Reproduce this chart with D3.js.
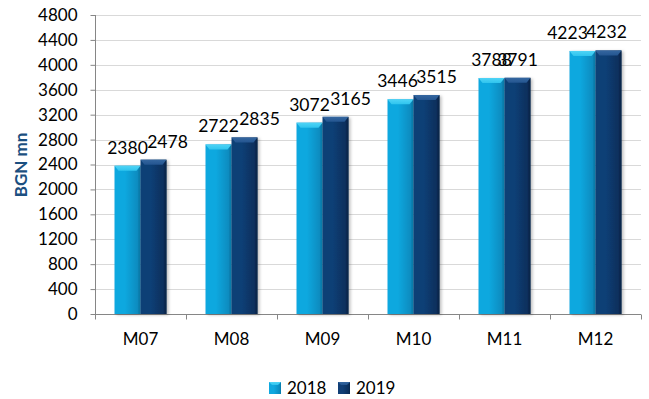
<!DOCTYPE html>
<html>
<head>
<meta charset="utf-8">
<script src="https://cdn.jsdelivr.net/npm/d3@7"></script>
<style>
  html, body { margin: 0; padding: 0; background: #fff; }
  svg { display: block; font-family: Lato, "Open Sans", sans-serif; }
</style>
</head>
<body>
<svg id="chart" width="649" height="399"></svg>
<script>
const categories = ["M07", "M08", "M09", "M10", "M11", "M12"];
const seriesNames = ["2018", "2019"];
const values2018 = [2380, 2722, 3072, 3446, 3788, 4223];
const values2019 = [2478, 2835, 3165, 3515, 3791, 4232];
const yTicks = [0, 400, 800, 1200, 1600, 2000, 2400, 2800, 3200, 3600, 4000, 4400, 4800];
const yLabel = "BGN mn";

// horizontal nudges of the value labels, as placed in the original chart (px)
const labelNudge2018 = [0, 0, 0, -3, 0, -15];
const labelNudge2019 = [14, 15, 15, 10, 0, -2];

const svg = d3.select("#chart");
const x0 = 95, x1 = 641, yTop = 15, yBot = 314;

const x = d3.scaleBand().domain(categories).range([x0, x1]).paddingInner(0).paddingOuter(0);
const xs = d3.scaleBand().domain(seriesNames).range([0, x.bandwidth()]).paddingOuter(0.75).paddingInner(0);
const y = d3.scaleLinear().domain([0, 4800]).range([yBot, yTop]);

const colors = {
  "2018": { dark: "#0a8cc0", mid: "#10a8df", light: "#2fc4ee", top: "#4fd4f6", edge: "#0779a8" },
  "2019": { dark: "#0a2f5c", mid: "#113f76", light: "#245590", top: "#3567a0", edge: "#082649" }
};

const defs = svg.append("defs");
seriesNames.forEach(s => {
  const c = colors[s];
  const g = defs.append("linearGradient").attr("id", "g" + s).attr("x1", "0").attr("x2", "1").attr("y1", "0").attr("y2", "0");
  g.append("stop").attr("offset", "0").attr("stop-color", c.mid);
  g.append("stop").attr("offset", "0.4").attr("stop-color", c.mid);
  g.append("stop").attr("offset", "0.88").attr("stop-color", c.dark);
  g.append("stop").attr("offset", "1").attr("stop-color", c.edge);
  const gt = defs.append("linearGradient").attr("id", "t" + s).attr("x1", "0").attr("x2", "0").attr("y1", "0").attr("y2", "1");
  gt.append("stop").attr("offset", "0").attr("stop-color", c.top);
  gt.append("stop").attr("offset", "1").attr("stop-color", c.light);
});
const sh = defs.append("filter").attr("id", "shadow").attr("x", "-20%").attr("y", "-10%").attr("width", "150%").attr("height", "130%");
sh.append("feDropShadow").attr("dx", 2).attr("dy", 1).attr("stdDeviation", 1.5).attr("flood-color", "#000").attr("flood-opacity", 0.25);

// gridlines
svg.append("g").selectAll("line").data(yTicks.filter(d => d > 0)).join("line")
  .attr("x1", x0).attr("x2", x1)
  .attr("y1", d => Math.round(y(d)) + 0.5).attr("y2", d => Math.round(y(d)) + 0.5)
  .attr("stroke", "#d9d9d9").attr("stroke-width", 1);

// y axis
const yAxis = d3.axisLeft(y).tickValues(yTicks).tickSize(5).tickPadding(13).tickFormat(d3.format("d"));
const gy = svg.append("g").attr("transform", `translate(${x0 + 0.5},0)`).call(yAxis);
gy.select(".domain").attr("stroke", "#868686").attr("d", `M-0,${yTop}V${yBot + 5}`);
gy.selectAll(".tick line").attr("stroke", "#868686");
gy.selectAll(".tick text").attr("font-size", 17).attr("fill", "#000").attr("font-family", "Lato, sans-serif");

// x axis
const xAxis = d3.axisBottom(x).tickSize(0).tickPadding(18);
const gx = svg.append("g").attr("transform", `translate(0,${yBot + 0.5})`).call(xAxis);
gx.select(".domain").attr("stroke", "#868686").attr("d", `M${x0},0H${x1}`);
gx.selectAll(".tick text").attr("font-size", 17).attr("fill", "#000").attr("font-family", "Lato, sans-serif");
// category separators
gx.append("g").selectAll("line").data(d3.range(categories.length + 1)).join("line")
  .attr("x1", i => Math.round(x0 + i * x.bandwidth()) + 0.5)
  .attr("x2", i => Math.round(x0 + i * x.bandwidth()) + 0.5)
  .attr("y1", 0).attr("y2", 5).attr("stroke", "#868686");

// bars
const data = [];
categories.forEach((c, i) => {
  data.push({ cat: c, s: "2018", v: values2018[i], nudge: labelNudge2018[i] });
  data.push({ cat: c, s: "2019", v: values2019[i], nudge: labelNudge2019[i] });
});
const bars = svg.append("g").selectAll("g").data(data).join("g");
bars.each(function(d) {
  const g = d3.select(this);
  const bx = x(d.cat) + xs(d.s), bw = xs.bandwidth();
  const by = y(d.v), bh = yBot - by;
  const c = colors[d.s];
  g.append("rect").attr("x", bx).attr("y", by).attr("width", bw).attr("height", bh)
    .attr("fill", `url(#g${d.s})`).attr("filter", "url(#shadow)");
  const bev = 5, ins = 4;
  g.append("path")
    .attr("d", `M${bx},${by}L${bx + bw},${by}L${bx + bw - ins},${by + bev}L${bx + ins},${by + bev}Z`)
    .attr("fill", `url(#t${d.s})`);
  g.append("path")
    .attr("d", `M${bx + bw},${by}L${bx + bw},${yBot}L${bx + bw - 2},${yBot}L${bx + bw - 2},${by + bev - 1}Z`)
    .attr("fill", c.edge).attr("opacity", 0.6);
});
svg.append("g").selectAll("text").data(data).join("text")
  .attr("x", d => x(d.cat) + xs(d.s) + xs.bandwidth() / 2 + d.nudge)
  .attr("y", d => y(d.v) - 12)
  .attr("text-anchor", "middle").attr("font-size", 17.5).attr("fill", "#000")
  .attr("font-family", "Lato, sans-serif")
  .text(d => d.v);

// y label
svg.append("text").attr("transform", `translate(27,165) rotate(-90)`)
  .attr("text-anchor", "middle").attr("font-size", 17).attr("font-weight", "bold")
  .attr("fill", "#1b4f80").attr("font-family", "Lato, sans-serif").text(yLabel);

// legend
const legend = svg.append("g");
const legX = [269, 338];
seriesNames.forEach((s, i) => {
  const lg = legend.append("g").attr("transform", `translate(${legX[i]},382)`);
  lg.append("rect").attr("width", 12).attr("height", 12).attr("fill", `url(#g${s})`);
  lg.append("path").attr("d", "M0,0L12,0L9,3L3,3Z").attr("fill", `url(#t${s})`);
  lg.append("text").attr("x", 18).attr("y", 12).attr("font-size", 17).attr("fill", "#000")
    .attr("font-family", "Lato, sans-serif").text(s);
});
</script>
</body>
</html>
